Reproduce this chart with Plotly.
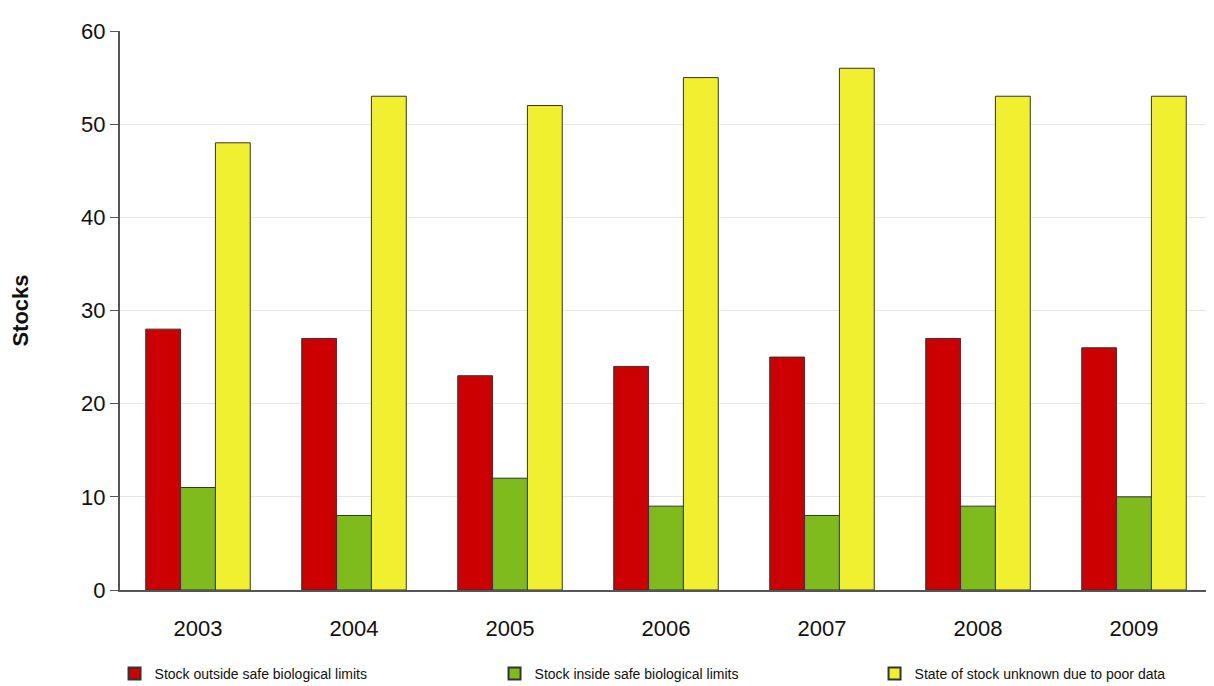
import plotly.graph_objects as go

years = ["2003", "2004", "2005", "2006", "2007", "2008", "2009"]
outside = [28, 27, 23, 24, 25, 27, 26]
inside = [11, 8, 12, 9, 8, 9, 10]
unknown = [48, 53, 52, 55, 56, 53, 53]

names = [
    "Stock outside safe biological limits",
    "Stock inside safe biological limits",
    "State of stock unknown due to poor data",
]
colors = ["#CC0000", "#80BB1E", "#F0F030"]

fig = go.Figure()
for name, vals, c in zip(names, [outside, inside, unknown], colors):
    fig.add_trace(go.Bar(x=years, y=vals, name=name, marker_color=c,
                         marker_line=dict(color="#333333", width=1)))

fig.update_layout(
    width=1214, height=686,
    barmode="group", bargap=0.33, bargroupgap=0,
    plot_bgcolor="white", paper_bgcolor="white",
    margin=dict(l=112, r=10, t=23, b=104, autoexpand=False),
    font=dict(family="Liberation Sans, Arial", color="#111111"),
    legend=dict(orientation="h", x=-0.005, xanchor="left", y=-0.15, yanchor="middle",
                font=dict(size=14), entrywidth=335, itemsizing="constant"),
)
fig.update_xaxes(showline=True, linecolor="#555555", linewidth=2,
                 tickfont=dict(size=22), ticks="", ticklabelstandoff=18)
fig.update_yaxes(range=[0, 60], dtick=10, showline=True, linecolor="#555555",
                 linewidth=2, gridcolor="#e6e6e6", ticks="outside", ticklen=8,
                 tickcolor="#555555", tickfont=dict(size=22), zeroline=False,
                 title=dict(text="<b>Stocks</b>", font=dict(size=22), standoff=46))

fig.write_html("out.html")
